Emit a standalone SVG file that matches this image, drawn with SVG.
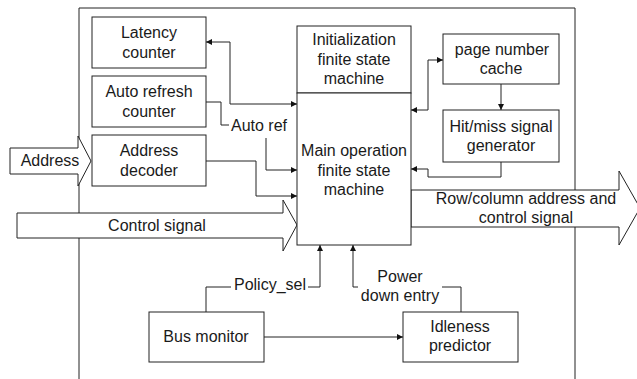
<svg xmlns="http://www.w3.org/2000/svg" width="637" height="379" viewBox="0 0 637 379">
<style>
text{font-family:"Liberation Sans",Arial,sans-serif;font-size:16px;fill:#1a1a1a;text-anchor:middle}
.b{fill:#fff;stroke:#222;stroke-width:1}
.c{fill:none;stroke:#222;stroke-width:1}
.s{text-anchor:start}
</style>
<defs>
<marker id="ah" viewBox="0 0 10 10" refX="10" refY="5" markerWidth="9" markerHeight="6" markerUnits="userSpaceOnUse" orient="auto-start-reverse">
<path d="M0,0L10,5L0,10z" fill="#111"/>
</marker>
</defs>
<rect width="637" height="379" fill="#fff"/>
<path class="c" d="M79,390V8H575V390"/>
<g id="connectors">
<path class="c" d="M206,42H230V104H297" marker-start="url(#ah)" marker-end="url(#ah)"/>
<path class="c" d="M206,102H221V125H229"/>
<path class="c" d="M266,138V170H297" marker-end="url(#ah)"/>
<path class="c" d="M206,161H256V196H297" marker-end="url(#ah)"/>
<path class="c" d="M411,110H428V60H443" marker-start="url(#ah)" marker-end="url(#ah)"/>
<path class="c" d="M501,84V110" marker-end="url(#ah)"/>
<path class="c" d="M501,162V177H428V169H411" marker-end="url(#ah)"/>
<path class="c" d="M206,312V287H231"/>
<path class="c" d="M308,287H320V245" marker-end="url(#ah)"/>
<path class="c" d="M358,287H353V245" marker-end="url(#ah)"/>
<path class="c" d="M442,287H461V312"/>
<path class="c" d="M264,337H403" marker-end="url(#ah)"/>
<text class="s" x="231" y="131">Auto ref</text>
<text x="270" y="290">Policy_sel</text>
<text x="400" y="282">Power</text>
<text x="400" y="301">down entry</text>
</g>
<g id="address">
<path class="b" d="M10,148H78V136L91,161L78,186V174H10Z"/>
<text x="50" y="166">Address</text>
</g>
<g id="control">
<path class="b" d="M17,213H283V200L297,225L283,251V238H17Z"/>
<text x="157" y="231">Control signal</text>
</g>
<g id="rowcol">
<path class="b" d="M411,190H619V171L640,208L619,245V227H411Z"/>
<text x="526" y="204">Row/column address and</text>
<text x="526" y="223">control signal</text>
</g>
<g id="latency">
<rect class="b" x="92" y="17" width="114" height="51"/>
<text x="149" y="38">Latency</text>
<text x="149" y="58">counter</text>
</g>
<g id="autorefresh">
<rect class="b" x="92" y="76" width="114" height="51"/>
<text x="149" y="97">Auto refresh</text>
<text x="149" y="117">counter</text>
</g>
<g id="addrdecoder">
<rect class="b" x="92" y="135" width="114" height="51"/>
<text x="149" y="156">Address</text>
<text x="149" y="176">decoder</text>
</g>
<g id="initfsm">
<rect class="b" x="297" y="26" width="114" height="67"/>
<text x="354" y="45">Initialization</text>
<text x="354" y="65">finite state</text>
<text x="354" y="84">machine</text>
</g>
<g id="mainfsm">
<rect class="b" x="297" y="93" width="114" height="152"/>
<text x="354" y="156">Main operation</text>
<text x="354" y="176">finite state</text>
<text x="354" y="195">machine</text>
</g>
<g id="pagecache">
<rect class="b" x="443" y="34" width="116" height="50"/>
<text x="502" y="55">page number</text>
<text x="501" y="74">cache</text>
</g>
<g id="hitmiss">
<rect class="b" x="443" y="110" width="116" height="52"/>
<text x="501" y="132">Hit/miss signal</text>
<text x="501" y="151">generator</text>
</g>
<g id="busmonitor">
<rect class="b" x="149" y="312" width="115" height="50"/>
<text x="206" y="342">Bus monitor</text>
</g>
<g id="idleness">
<rect class="b" x="403" y="312" width="115" height="50"/>
<text x="460" y="332">Idleness</text>
<text x="460" y="351">predictor</text>
</g>
</svg>
